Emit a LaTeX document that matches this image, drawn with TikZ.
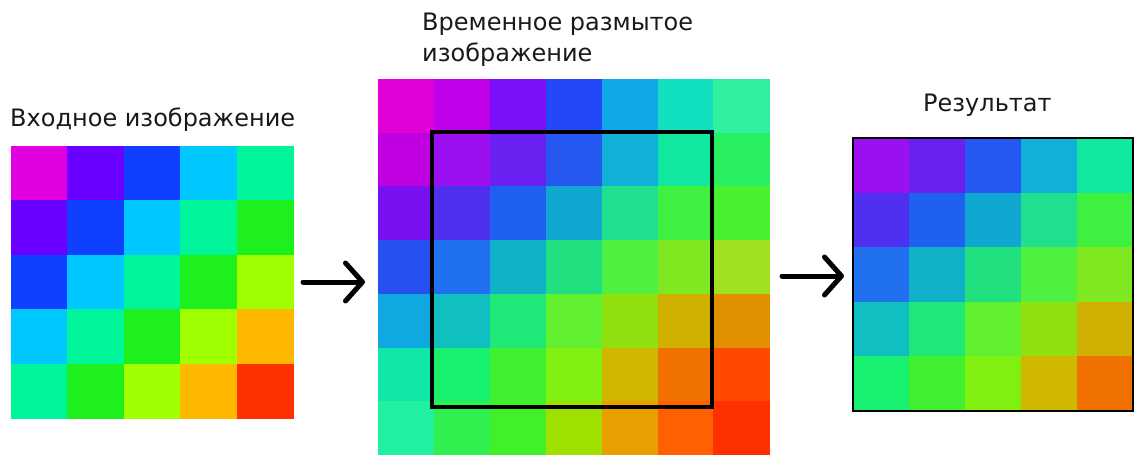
\documentclass[tikz,border=0pt]{standalone}
\usepackage{fontspec}
\setmainfont{DejaVu Sans}
\usetikzlibrary{arrows.meta}

\tikzset{
  lbl/.style={anchor=base west, inner sep=0pt, text=black!90,
    font=\fontsize{24}{31}\selectfont},
  stepto/.style={line width=5pt, line cap=round,
    -{Straight Barb[length=17pt, width=38pt, round]}},
}

\begin{document}
\begin{tikzpicture}[x=1pt, y=-1pt]
  \useasboundingbox (0,0) rectangle (1135,457);
  % input image, 5x5
  \foreach \row [count=\r from 0] in {
      {E000E0,6A00FF,1040FF,00C8FF,00F59A},
      {6A00FF,1040FF,00C8FF,00F59A,1EF01E},
      {1040FF,00C8FF,00F59A,1EF01E,A0FF00},
      {00C8FF,00F59A,1EF01E,A0FF00,FFB800},
      {00F59A,1EF01E,A0FF00,FFB800,FF3000}}
    \foreach \hex [count=\k from 0] in \row {
      \definecolor{cellc}{HTML}{\hex}
      \fill[cellc] (11+56.4*\k, 146+54.4*\r) rectangle ++(56.9,54.9);
    }
  % temporary blurred image, 7x7
  \foreach \row [count=\r from 0] in {
      {E000D8,C000E8,7A10F8,2448F8,10A8E8,10E0C0,30F0A0},
      {C000E0,9A10F0,6A20F0,2458F0,10B0D8,10E8A0,28F060},
      {7810F0,5030F0,2060F0,10A8D0,20E090,40F040,48F030},
      {2850F0,2070F0,10B0C8,20E080,50F040,80E820,A0E020},
      {10A8E0,10C0C0,20E878,60F030,90E010,D0B000,E09000},
      {10E8A8,18F070,40F030,80F010,D0B800,F07000,FF4800},
      {20F0A0,30F050,40F028,A0E000,E8A000,FF6000,FF3000}}
    \foreach \hex [count=\k from 0] in \row {
      \definecolor{cellc}{HTML}{\hex}
      \fill[cellc] (378+55.9*\k, 79+53.7*\r) rectangle ++(56.4,54.2);
    }
  \draw[line width=4pt] (432,132) rectangle (712,407);
  % result, 5x5
  \foreach \row [count=\r from 0] in {
      {9A10F0,6A20F0,2458F0,10B0D8,10E8A0},
      {5030F0,2060F0,10A8D0,20E090,40F040},
      {2070F0,10B0C8,20E080,50F040,80E820},
      {10C0C0,20E878,60F030,90E010,D0B000},
      {18F070,40F030,80F010,D0B800,F07000}}
    \foreach \hex [count=\k from 0] in \row {
      \definecolor{cellc}{HTML}{\hex}
      \fill[cellc] (853+56*\k, 138+54.6*\r) rectangle ++(56.5,55.1);
    }
  \draw[line width=2.5pt] (853,138) rectangle (1133,411);
  % labels
  \node[lbl] (inlbl) at (10,127) {Входное изображение};
  \node[lbl] (tmplbl) at (422,31) {Временное размытое};
  \node[lbl] (tmplbl2) at (422,62) {изображение};
  \node[lbl] (reslbl) at (923,112) {Результат};
  % arrows
  \coordinate (a1from) at (303,282);
  \coordinate (a1to) at (365,282);
  \coordinate (a2from) at (782,276);
  \coordinate (a2to) at (844,276);
  \draw[stepto] (a1from) -- (a1to);
  \draw[stepto] (a2from) -- (a2to);
\end{tikzpicture}
\end{document}
